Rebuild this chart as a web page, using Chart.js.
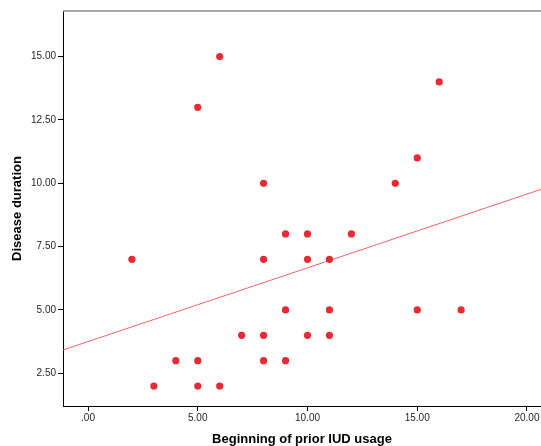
<!DOCTYPE html>
<html>
<head>
<meta charset="utf-8">
<script src="https://cdn.jsdelivr.net/npm/chart.js@4"></script>
<style>
  html, body { margin: 0; padding: 0; background: #fff; overflow: hidden; }
  #chart { display: block; }
</style>
</head>
<body>
<canvas id="chart" width="541" height="446"></canvas>
<script>
'use strict';

// values
const iudStart = [2, 3, 4, 5, 5, 5, 6, 6, 7, 8, 8, 8, 8, 9, 9, 9, 10, 10, 10, 11, 11, 11, 12, 14, 15, 15, 16, 17];
const duration = [7, 2, 3, 13, 3, 2, 15, 2, 4, 10, 7, 4, 3, 8, 5, 3, 8, 7, 4, 7, 5, 4, 8, 10, 11, 5, 14, 5];

// fit line ends, as read at the plot edges
const fitX = [-1.14, 20.64];
const fitY = [3.42, 9.76];

const xTicks = [0, 5, 10, 15, 20];
const yTicks = [2.5, 5, 7.5, 10, 12.5, 15];

const tickFont = { family: '"Liberation Sans", Arial, sans-serif', size: 10 };
const titleFont = { family: '"Liberation Sans", Arial, sans-serif', size: 13, weight: 'bold', lineHeight: 1 };

function fmt(v) {
  return v === 0 ? '.00' : v.toFixed(2);
}

const topBorder = {
  id: 'topBorder',
  afterDraw: function (chart) {
    const a = chart.chartArea;
    const ctx = chart.ctx;
    ctx.save();
    ctx.strokeStyle = '#8c8c8c';
    ctx.lineWidth = 1.5;
    ctx.beginPath();
    ctx.moveTo(a.left, a.top);
    ctx.lineTo(a.right, a.top);
    ctx.stroke();
    ctx.restore();
  }
};

new Chart(document.getElementById('chart'), {
  type: 'scatter',
  data: {
    datasets: [{
      type: 'line',
      data: fitX.map((x, i) => ({ x: x, y: fitY[i] })),
      borderColor: '#f26464',
      borderWidth: 1,
      pointRadius: 0,
      fill: false,
      order: 2
    }, {
      data: iudStart.map((x, i) => ({ x: x, y: duration[i] })),
      backgroundColor: '#ea2a33',
      borderColor: '#ea2a33',
      pointRadius: 3.6,
      borderWidth: 0,
      order: 1
    }]
  },
  plugins: [topBorder],
  options: {
    responsive: false,
    animation: false,
    devicePixelRatio: 1,
    layout: {
      autoPadding: false,
      padding: { top: 11, right: 0, left: 0, bottom: 0 }
    },
    plugins: {
      legend: { display: false },
      tooltip: { enabled: false }
    },
    scales: {
      x: {
        type: 'linear',
        min: fitX[0],
        max: fitX[1],
        afterBuildTicks: function (scale) {
          scale.ticks = xTicks.map(v => ({ value: v }));
        },
        afterFit: function (scale) {
          scale.height = 40;
          scale.paddingLeft = 0;
          scale.paddingRight = 0;
        },
        ticks: {
          callback: fmt,
          font: tickFont,
          color: '#262626',
          padding: 1,
          maxRotation: 0,
          autoSkip: false
        },
        grid: {
          drawOnChartArea: false,
          drawTicks: true,
          tickLength: 5,
          color: '#000'
        },
        border: { display: true, color: '#000', width: 1 },
        title: {
          display: true,
          text: 'Beginning of prior IUD usage',
          font: titleFont,
          color: '#000',
          padding: { top: 0, bottom: 0 }
        }
      },
      y: {
        type: 'linear',
        min: 1.21,
        max: 16.8,
        afterBuildTicks: function (scale) {
          scale.ticks = yTicks.map(v => ({ value: v }));
        },
        afterFit: function (scale) {
          scale.width = 63;
        },
        ticks: {
          callback: fmt,
          font: tickFont,
          color: '#262626',
          padding: 2,
          autoSkip: false
        },
        grid: {
          drawOnChartArea: false,
          drawTicks: true,
          tickLength: 5,
          color: '#000'
        },
        border: { display: true, color: '#000', width: 1 },
        title: {
          display: true,
          text: 'Disease duration',
          font: titleFont,
          color: '#000',
          padding: { top: 11, bottom: 0 }
        }
      }
    }
  }
});
</script>
</body>
</html>
